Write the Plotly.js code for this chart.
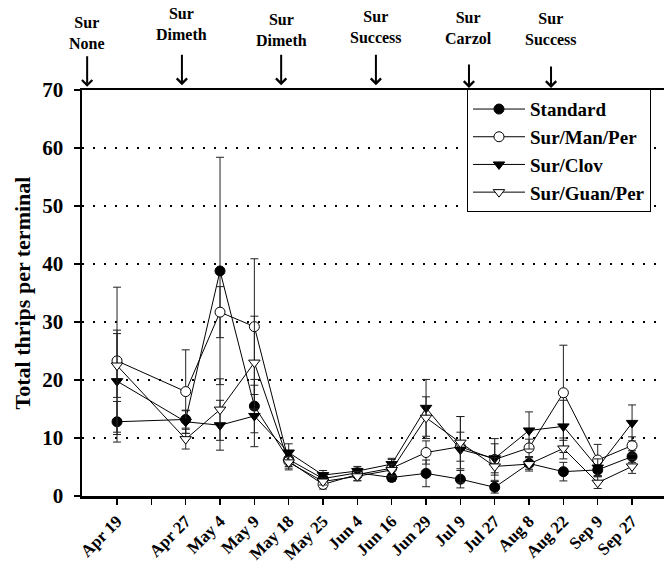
<!DOCTYPE html>
<html>
<head>
<meta charset="utf-8">
<script src="https://cdn.plot.ly/plotly-3.0.1.min.js"></script>
<style>html,body{margin:0;padding:0;background:#fff;}#chart{width:664px;height:563px;}</style>
</head>
<body>
<div id="chart"></div>
<script>
// Sampling dates (a blank slot sits between Apr 19 and Apr 27 on the axis)
var axisSlots = ['Apr 19', ' ', 'Apr 27', 'May 4', 'May 9', 'May 18', 'May 25', 'Jun 4', 'Jun 16', 'Jun 29', 'Jul 9', 'Jul 27', 'Aug 8', 'Aug 22', 'Sep 9', 'Sep 27'];
var dates = ['Apr 19', 'Apr 27', 'May 4', 'May 9', 'May 18', 'May 25', 'Jun 4', 'Jun 16', 'Jun 29', 'Jul 9', 'Jul 27', 'Aug 8', 'Aug 22', 'Sep 9', 'Sep 27'];

var standard    = [12.8, 13.2, 38.8, 15.5, 6.3, 3.0, 4.0, 3.2, 3.9, 2.9, 1.5, 5.6, 4.2, 4.5, 6.8];
var standardErr = [3.5, 1.5, 19.6, 4.6, 1.2, 0.8, 0.8, 0.7, 2.3, 1.5, 1.0, 1.0, 1.6, 1.0, 1.0];

var manPer      = [23.3, 18.0, 31.7, 29.2, 6.0, 2.0, 3.7, 4.8, 7.5, 8.5, 6.3, 8.3, 17.8, 6.2, 8.7];
var manPerErr   = [12.7, 7.2, 4.4, 11.7, 1.5, 0.8, 1.0, 1.5, 2.0, 2.5, 3.6, 1.5, 8.2, 2.7, 1.5];

var clov        = [19.8, 12.8, 12.2, 13.8, 7.5, 3.6, 4.3, 5.5, 15.2, 8.0, 6.5, 11.3, 12.0, 4.9, 12.6];
var clovErr     = [8.8, 2.0, 4.3, 5.3, 1.5, 0.8, 0.8, 1.0, 4.9, 5.7, 2.5, 3.2, 4.5, 1.5, 3.1];

var guanPer     = [22.5, 9.8, 14.9, 23.0, 5.8, 2.5, 3.4, 4.5, 13.5, 9.2, 5.1, 5.5, 8.2, 2.3, 5.1];
var guanPerErr  = [5.5, 1.7, 5.3, 8.0, 1.0, 0.6, 0.8, 1.0, 3.6, 4.5, 1.5, 1.2, 1.8, 1.0, 1.2];

// Spray application annotations
var sprayLine1 = ['Sur', 'Sur', 'Sur', 'Sur', 'Sur', 'Sur'];
var sprayLine2 = ['None', 'Dimeth', 'Dimeth', 'Success', 'Carzol', 'Success'];
var sprayPos   = [-0.87, 1.89, 4.78, 7.54, 10.25, 12.64];
var sprayTextY = [1.141, 1.162, 1.148, 1.155, 1.152, 1.150];
var sprayLen   = [32, 32, 32, 32, 25, 23];
var sprayTipY  = [1.008, 1.012, 1.012, 1.012, 1.005, 1.005];

var FONT = 'Liberation Serif, Times New Roman, serif';

function series(name, y, err, symbol, fill) {
  return {
    type: 'scatter', mode: 'lines+markers', name: name,
    x: dates, y: y,
    line: {color: '#000', width: 1},
    marker: {symbol: symbol, size: 10, color: fill, line: {color: '#000', width: 1}},
    error_y: {type: 'data', array: err, visible: true, color: '#222', thickness: 1, width: 4}
  };
}

var traces = [
  series('Standard', standard, standardErr, 'circle', '#000'),
  series('Sur/Man/Per', manPer, manPerErr, 'circle', '#fff'),
  series('Sur/Clov', clov, clovErr, 'triangle-down', '#000'),
  series('Sur/Guan/Per', guanPer, guanPerErr, 'triangle-down', '#fff')
];

var annotations = [];
for (var i = 0; i < sprayPos.length; i++) {
  annotations.push({
    x: sprayPos[i], xref: 'x', y: sprayTextY[i], yref: 'paper',
    text: sprayLine1[i] + '<br>' + sprayLine2[i], showarrow: false,
    xanchor: 'center', yanchor: 'middle',
    font: {family: FONT, size: 16, color: '#000', weight: 'bold'}
  });
  annotations.push({
    x: sprayPos[i], xref: 'x', y: sprayTipY[i], yref: 'paper',
    text: '', showarrow: true, ax: 0, ay: -sprayLen[i],
    arrowhead: 4, arrowsize: 1, arrowwidth: 2, arrowcolor: '#000', standoff: 0
  });
}

var layout = {
  width: 664, height: 563,
  margin: {l: 82, r: 0, t: 90, b: 67},
  paper_bgcolor: '#fff', plot_bgcolor: '#fff',
  font: {family: FONT, size: 16, color: '#000', weight: 'bold'},
  showlegend: true,
  legend: {
    x: 0.6615, xanchor: 'left', y: 1.002, yanchor: 'top',
    bgcolor: '#fff', bordercolor: '#000', borderwidth: 1,
    font: {family: FONT, size: 19, color: '#000', weight: 'bold'},
    tracegroupgap: 0, itemwidth: 52
  },
  xaxis: {
    type: 'category', categoryarray: axisSlots, categoryorder: 'array',
    range: [-1.02, 15.93],
    tickmode: 'array', tickvals: axisSlots, ticktext: axisSlots,
    tickangle: -45, ticks: 'outside', ticklen: 6, tickwidth: 1.5, tickcolor: '#000',
    tickfont: {family: FONT, size: 17, color: '#000', weight: 'bold'},
    showline: true, linecolor: '#000', linewidth: 2.5, mirror: true,
    showgrid: false, zeroline: false
  },
  yaxis: {
    range: [0, 70], dtick: 10, tick0: 0,
    ticks: 'outside', ticklen: 6, tickwidth: 1.5, tickcolor: '#000',
    tickfont: {family: FONT, size: 21, color: '#000', weight: 'bold'},
    ticklabelstandoff: 6,
    showline: true, linecolor: '#000', linewidth: 2.5,
    showgrid: true, gridcolor: '#000', gridwidth: 2, griddash: '2px,9px',
    zeroline: false,
    title: {text: 'Total thrips per terminal', standoff: 6,
            font: {family: FONT, size: 22, color: '#000', weight: 'bold'}}
  },
  annotations: annotations
};

Plotly.newPlot('chart', traces, layout, {displayModeBar: false, staticPlot: true});
</script>
</body>
</html>
